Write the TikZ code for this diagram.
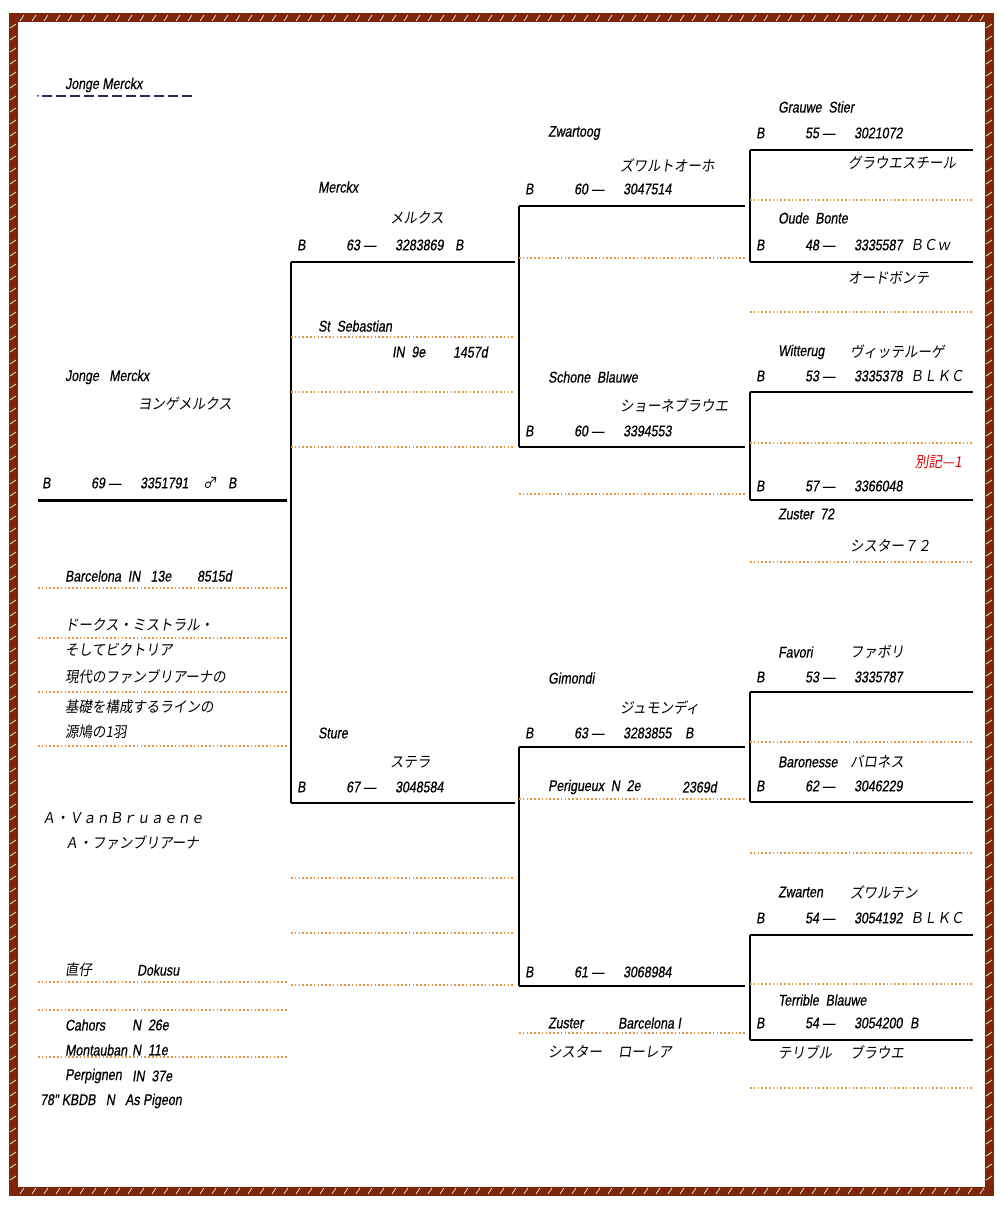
\documentclass[tikz,border=0pt]{standalone}
\usepackage{fontspec}
\newfontfamily\latf[FakeSlant=0.15,FakeStretch=0.8,FakeBold=0.6]{Liberation Sans}
\newfontfamily\jpf[FakeSlant=0.15,FakeStretch=0.9]{Noto Sans CJK JP}
\definecolor{brd}{RGB}{125,38,10}
\definecolor{dotc}{RGB}{232,150,70}
\definecolor{navyc}{RGB}{40,40,100}
\newcommand\recline[5]{%
  \node[lat] (#1b) at (#2+6,#3) {B};
  \node[lat] (#1y) at (#2+55,#3) {#4 —};
  \node[lat] (#1n) at (#2+104,#3) {#5};
}
\tikzset{
  lat/.style={anchor=west,inner sep=0pt,font=\latf\fontsize{15.5}{18}\selectfont},
  jp/.style={anchor=west,inner sep=0pt,font=\jpf\fontsize{15}{18}\selectfont},
  tree/.style={line width=1.8pt,black},
  dotl/.style={dotc,line width=1.6pt,dash pattern=on 1.6pt off 2.2pt},
}
\begin{document}
\begin{tikzpicture}[x=1pt,y=-1pt]
\fill[white] (0,0) rectangle (1000,1212);
\useasboundingbox (0,0) rectangle (1000,1212);
% border
\draw[brd,line width=9pt] (13,18) rectangle (989,1191);
\foreach \t in {20,32,...,985}{
  \draw[white!85!brd,line width=0.8pt] (\t,21) -- (\t+4,15);
  \draw[white!85!brd,line width=0.8pt] (\t,1194) -- (\t+4,1188);
}
\foreach \t in {24,36,...,1185}{
  \draw[white!85!brd,line width=0.8pt] (10,\t+4) -- (16,\t);
  \draw[white!85!brd,line width=0.8pt] (986,\t+4) -- (992,\t);
}
% title
\node[lat] (title) at (65,85) {Jonge Merckx};
\fill[navyc] (38,96) circle (1pt);
\draw[navyc,line width=2.5pt,dash pattern=on 10pt off 4pt] (42,96) -- (195,96);
% ---------------- column 1
\node[lat] (c1a) at (65,377) {Jonge~~~Merckx};
\node[jp] (c1b) at (138,404) {ヨンゲメルクス};
\recline{m}{36}{483}{69}{3351791}
\node[jp] (msex) at (203,483) {♂};
\node[lat] (mt) at (228,483) {B};
\draw[line width=3pt] (38,500) -- (287,500);
\node[lat] (c1c) at (65,576) {Barcelona~~IN~~~13e};
\node[lat] (c1d) at (197,576) {8515d};
\draw[dotl] (38,588) -- (287,588);
\node[jp] (c1e) at (65,625) {ドークス・ミストラル・};
\draw[dotl] (38,638) -- (287,638);
\node[jp] (c1f) at (65,650) {そしてビクトリア};
\node[jp] (c1g) at (65,677) {現代のファンブリアーナの};
\draw[dotl] (38,692) -- (287,692);
\node[jp] (c1h) at (65,707) {基礎を構成するラインの};
\node[jp] (c1i) at (65,732) {源鳩の1羽};
\draw[dotl] (38,746) -- (287,746);
\node[jp] (c1j) at (42,818) {Ａ・ＶａｎＢｒｕａｅｎｅ};
\node[jp] (c1k) at (65,843) {Ａ・ファンブリアーナ};
\node[jp] (c1l) at (65,970) {直仔};
\node[lat] (c1m) at (137,970) {Dokusu};
\draw[dotl] (38,982) -- (287,982);
\draw[dotl] (38,1010) -- (287,1010);
\node[lat] (c1n) at (65,1025) {Cahors};
\node[lat] (c1n2) at (132,1025) {N~~26e};
\node[lat] (c1o) at (65,1050) {Montauban};
\node[lat] (c1o2) at (132,1050) {N~~11e};
\draw[dotl] (38,1057) -- (287,1057);
\node[lat] (c1p) at (65,1076) {Perpignen};
\node[lat] (c1p2) at (132,1076) {IN~~37e};
\node[lat] (c1q) at (40,1101) {78" KBDB~~~N~~~As Pigeon};
% ---------------- column 2
\draw[tree] (291,262) -- (291,803);
\node[lat] (s1a) at (318,187) {Merckx};
\node[jp] (s1b) at (390,218) {メルクス};
\recline{s}{291}{245}{63}{3283869}
\node[lat] (st) at (455,245) {B};
\draw[tree] (291,262) -- (515,262);
\node[lat] (s1c) at (318,326) {St~~Sebastian};
\draw[dotl] (291,337) -- (515,337);
\node[lat] (s1d) at (392,352) {IN~~9e};
\node[lat] (s1e) at (453,352) {1457d};
\draw[dotl] (291,392) -- (515,392);
\draw[dotl] (291,447) -- (515,447);
\node[lat] (d1a) at (318,733) {Sture};
\node[jp] (d1b) at (390,762) {ステラ};
\recline{d}{291}{787}{67}{3048584}
\draw[tree] (291,803) -- (515,803);
\draw[dotl] (291,878) -- (515,878);
\draw[dotl] (291,933) -- (515,933);
\draw[dotl] (291,985) -- (515,985);
% ---------------- column 3
\draw[tree] (519,206) -- (519,447);
\node[lat] (ssa) at (548,133) {Zwartoog};
\node[jp] (ssb) at (620,165) {ズワルトオーホ};
\recline{ss}{519}{189}{60}{3047514}
\draw[tree] (519,206) -- (745,206);
\draw[dotl] (519,258) -- (745,258);
\node[lat] (sda) at (548,377) {Schone~~Blauwe};
\node[jp] (sdb) at (620,405) {ショーネブラウエ};
\recline{sd}{519}{431}{60}{3394553}
\draw[tree] (519,447) -- (745,447);
\draw[dotl] (519,494) -- (745,494);
\draw[tree] (519,747) -- (519,986);
\node[lat] (dsa) at (548,678) {Gimondi};
\node[jp] (dsb) at (620,708) {ジュモンディ};
\recline{ds}{519}{733}{63}{3283855}
\node[lat] (dst) at (685,733) {B};
\draw[tree] (519,747) -- (745,747);
\node[lat] (dsc) at (548,787) {Perigueux~~N~~2e};
\node[lat] (dsd) at (682,787) {2369d};
\draw[dotl] (519,799) -- (745,799);
\recline{dd}{519}{972}{61}{3068984}
\draw[tree] (519,986) -- (745,986);
\node[lat] (dda) at (548,1023) {Zuster};
\node[lat] (ddb) at (618,1023) {Barcelona I};
\draw[dotl] (519,1033) -- (745,1033);
\node[jp] (ddc) at (548,1052) {シスター};
\node[jp] (ddd) at (618,1052) {ローレア};
% ---------------- column 4
\draw[tree] (750,150) -- (750,262);
\node[lat] (sssa) at (778,107) {Grauwe~~Stier};
\recline{sss}{750}{133}{55}{3021072}
\draw[tree] (750,150) -- (973,150);
\node[jp] (sssb) at (848,163) {グラウエスチール};
\draw[dotl] (750,200) -- (973,200);
\node[lat] (ssda) at (778,218) {Oude~~Bonte};
\recline{ssd}{750}{245}{48}{3335587}
\node[jp] (ssdt) at (910,245) {ＢＣｗ};
\draw[tree] (750,262) -- (973,262);
\node[jp] (ssdb) at (848,278) {オードボンテ};
\draw[dotl] (750,312) -- (973,312);
\draw[tree] (750,392) -- (750,500);
\node[lat] (sdsa) at (778,352) {Witterug};
\node[jp] (sdsb) at (850,352) {ヴィッテルーゲ};
\recline{sds}{750}{376}{53}{3335378}
\node[jp] (sdst) at (910,376) {ＢＬＫＣ};
\draw[tree] (750,392) -- (973,392);
\draw[dotl] (750,443) -- (973,443);
\node[jp,text=red!85!black] (note) at (915,462) {別記—1};
\recline{sdd}{750}{486}{57}{3366048}
\draw[tree] (750,500) -- (973,500);
\node[lat] (sdda) at (778,514) {Zuster~~72};
\node[jp] (sddb) at (850,546) {シスター７２};
\draw[dotl] (750,562) -- (973,562);
\draw[tree] (750,692) -- (750,802);
\node[lat] (dssa) at (778,652) {Favori};
\node[jp] (dssb) at (850,652) {ファボリ};
\recline{dss}{750}{677}{53}{3335787}
\draw[tree] (750,692) -- (973,692);
\draw[dotl] (750,742) -- (973,742);
\node[lat] (dsda) at (778,762) {Baronesse};
\node[jp] (dsdb) at (850,762) {バロネス};
\recline{dsd}{750}{786}{62}{3046229}
\draw[tree] (750,802) -- (973,802);
\draw[dotl] (750,853) -- (973,853);
\draw[tree] (750,935) -- (750,1040);
\node[lat] (ddsa) at (778,892) {Zwarten};
\node[jp] (ddsb) at (850,892) {ズワルテン};
\recline{dds}{750}{918}{54}{3054192}
\node[jp] (ddst) at (910,918) {ＢＬＫＣ};
\draw[tree] (750,935) -- (973,935);
\draw[dotl] (750,984) -- (973,984);
\node[lat] (ddda) at (778,1000) {Terrible~~Blauwe};
\recline{ddd}{750}{1023}{54}{3054200}
\node[lat] (dddt) at (910,1023) {B};
\draw[tree] (750,1040) -- (973,1040);
\node[jp] (dddb) at (778,1052) {テリブル};
\node[jp] (dddc) at (850,1052) {ブラウエ};
\draw[dotl] (750,1088) -- (973,1088);
\end{tikzpicture}
\end{document}
